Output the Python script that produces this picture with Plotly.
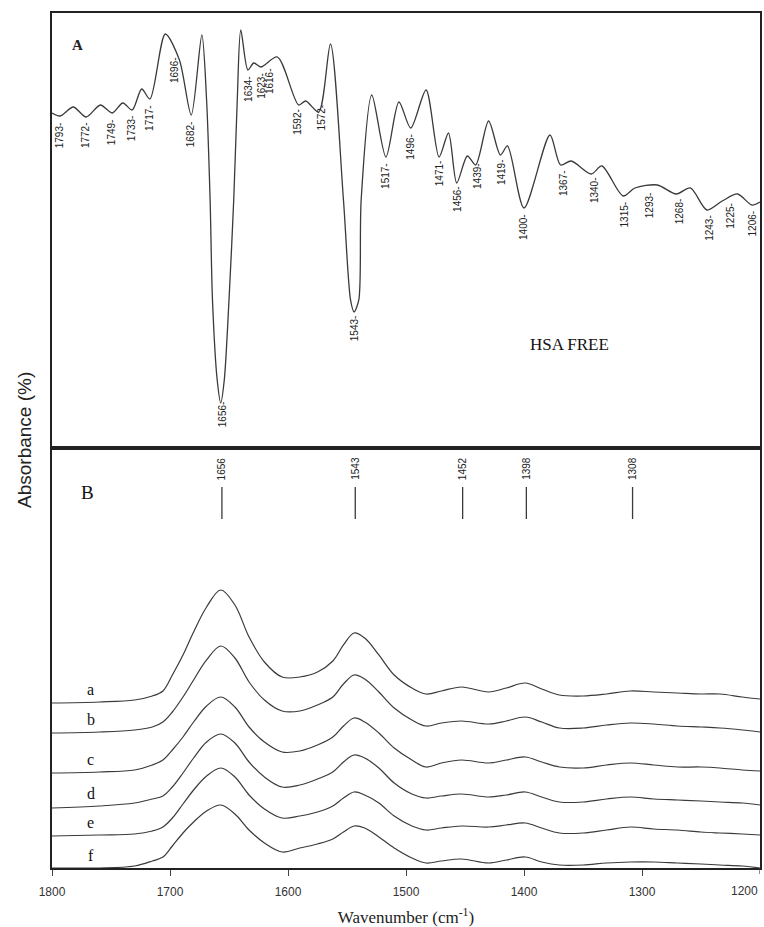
import numpy as np
import plotly.graph_objects as go

# ---------------- Panel A: second-derivative spectrum of free HSA ----------------
wn_A = [1800, 1793, 1782, 1771, 1759, 1749, 1740, 1732, 1724, 1717, 1704, 1692, 1682,
        1673, 1669, 1666, 1664, 1660, 1657, 1654, 1650, 1646, 1643, 1640, 1634, 1629,
        1623, 1609, 1591, 1585, 1574, 1564, 1553, 1547, 1544, 1540, 1538, 1529, 1517,
        1506, 1496, 1483, 1472, 1464, 1457, 1448, 1441, 1430, 1420, 1414, 1400, 1378,
        1369, 1360, 1343, 1334, 1316, 1306, 1287, 1271, 1259, 1245, 1232, 1219, 1207, 1200]
abs_A = [333, 330, 339, 329, 341, 333, 343, 336, 357, 347, 412, 386, 331,
         411, 346, 246, 146, 66, 43, 66, 146, 246, 346, 416, 376, 383,
         379, 389, 341, 345, 334, 402, 246, 146, 134, 146, 246, 351, 289,
         344, 318, 356, 289, 313, 263, 290, 281, 325, 291, 300, 238, 311,
         281, 285, 272, 280, 250, 258, 261, 252, 258, 236, 245, 252, 241, 244]

peak_labels_A = ["1793", "1772", "1749", "1733", "1717", "1696", "1682", "1656", "1634",
                 "1623", "1616", "1592", "1572", "1543", "1517", "1496", "1471", "1456",
                 "1439", "1419", "1400", "1367", "1340", "1315", "1293", "1268", "1243",
                 "1225", "1206"]

# ---------------- Panel B: absorbance spectra a-f ----------------
wn_B = [1800, 1760, 1730, 1715, 1706, 1698, 1689, 1680, 1669, 1657, 1645, 1633, 1620,
        1605, 1590, 1575, 1562, 1553, 1544, 1535, 1523, 1510, 1495, 1483, 1470, 1453,
        1430, 1415, 1399, 1385, 1370, 1350, 1330, 1310, 1290, 1270, 1250, 1234, 1215, 1200]
spec_a = [165, 166, 168, 172, 177, 193, 213, 236, 261, 278, 263, 231, 206, 191, 191, 196,
          207, 223, 235, 230, 213, 193, 180, 174, 177, 181, 176, 180, 185, 179, 173, 172,
          174, 177, 176, 175, 174, 174, 171, 169]
spec_b = [135, 136, 138, 141, 146, 156, 171, 188, 208, 222, 210, 186, 168, 157, 157, 163,
          171, 184, 193, 189, 176, 160, 148, 142, 145, 147, 144, 147, 151, 146, 140, 140,
          143, 145, 144, 142, 141, 140, 138, 136]
spec_c = [95, 96, 98, 103, 108, 118, 131, 146, 162, 171, 161, 141, 126, 116, 117, 123,
          131, 142, 150, 146, 135, 120, 108, 101, 105, 108, 105, 108, 111, 106, 101, 100,
          103, 105, 103, 101, 101, 100, 98, 97]
spec_d = [60, 62, 65, 69, 72, 81, 95, 110, 126, 134, 125, 106, 91, 81, 83, 89,
          96, 106, 113, 110, 100, 85, 74, 70, 72, 74, 71, 73, 76, 71, 66, 66,
          69, 71, 69, 68, 67, 66, 65, 63]
spec_e = [32, 33, 34, 37, 41, 50, 64, 78, 92, 100, 91, 73, 59, 50, 52, 56,
          62, 70, 76, 73, 65, 52, 42, 38, 40, 42, 41, 43, 45, 40, 35, 35,
          38, 41, 39, 38, 36, 35, 34, 33]
spec_f = [0, 0, 2, 7, 11, 22, 35, 46, 57, 63, 54, 38, 25, 16, 20, 24,
          29, 36, 42, 40, 31, 20, 10, 5, 7, 9, 5, 8, 11, 6, 3, 3,
          5, 6, 6, 5, 4, 3, 2, 0]
series_names = ["a", "b", "c", "d", "e", "f"]
series_B = [spec_a, spec_b, spec_c, spec_d, spec_e, spec_f]

band_positions_B = [1656, 1543, 1452, 1398, 1308]
x_ticks = [1800, 1700, 1600, 1500, 1400, 1300]
x_last_tick = 1200

LINE = "#3a3a3a"
SERIF = "Liberation Serif, Times New Roman, serif"
SANS = "Liberation Sans, Arial, sans-serif"

fig = go.Figure()

fig.add_trace(go.Scatter(x=wn_A, y=abs_A, mode="lines", xaxis="x2", yaxis="y2",
                         line=dict(color=LINE, width=1.3, shape="spline", smoothing=0.8),
                         showlegend=False, hoverinfo="skip"))

for name, s in zip(series_names, series_B):
    fig.add_trace(go.Scatter(x=wn_B, y=s, mode="lines", xaxis="x", yaxis="y",
                             line=dict(color=LINE, width=1.2, shape="spline", smoothing=1.0),
                             showlegend=False, hoverinfo="skip"))

annotations = []
wn_A_rev = np.array(wn_A[::-1], dtype=float)
abs_A_rev = np.array(abs_A[::-1], dtype=float)
for lab in peak_labels_A:
    w = float(lab)
    yv = float(np.interp(w, wn_A_rev, abs_A_rev))
    annotations.append(dict(x=w, y=yv, xref="x2", yref="y2", text=lab + "-",
                            textangle=-90, showarrow=False, yanchor="top", xanchor="center",
                            yshift=-4, font=dict(family=SANS, size=10, color="#222")))

annotations.append(dict(x=1778, y=401, xref="x2", yref="y2", text="<b>A</b>", showarrow=False,
                        xanchor="center", yanchor="middle",
                        font=dict(family=SERIF, size=15, color="#222")))
annotations.append(dict(x=1397, y=101, xref="x2", yref="y2", text="HSA FREE", showarrow=False,
                        xanchor="left", yanchor="middle",
                        font=dict(family=SERIF, size=17, color="#111")))
annotations.append(dict(x=1770, y=375, xref="x", yref="y", text="B", showarrow=False,
                        xanchor="center", yanchor="middle",
                        font=dict(family=SERIF, size=19, color="#111")))

wn_B_rev = np.array(wn_B[::-1], dtype=float)
for name, s in zip(series_names, series_B):
    yv = float(np.interp(1767, wn_B_rev, np.array(s[::-1], dtype=float)))
    annotations.append(dict(x=1767, y=yv, xref="x", yref="y", text=name, showarrow=False,
                            xanchor="center", yanchor="bottom", yshift=2,
                            font=dict(family=SERIF, size=16, color="#111")))

shapes = []
for b in band_positions_B:
    shapes.append(dict(type="line", xref="x", yref="y", x0=b, x1=b, y0=349, y1=381,
                       line=dict(color=LINE, width=1.3)))
    annotations.append(dict(x=b, y=381, xref="x", yref="y", text=str(b), textangle=-90,
                            showarrow=False, yanchor="bottom", xanchor="center", yshift=5,
                            font=dict(family=SANS, size=10, color="#222")))

# last tick (sits at the right edge of the chart)
annotations.append(dict(x=x_last_tick, y=0, xref="x", yref="paper", text=str(x_last_tick),
                        showarrow=False, xanchor="right", yanchor="top", yshift=-14,
                        font=dict(family=SANS, size=12, color="#333")))
shapes.append(dict(type="line", xref="x", yref="paper", ysizemode="pixel", yanchor=0,
                   x0=x_last_tick, x1=x_last_tick, y0=0, y1=-6,
                   line=dict(color="#444", width=1.2)))

annotations.append(dict(x=0, y=0.5006, xref="paper", yref="paper", xshift=-27,
                        text="Absorbance (%)", textangle=-90, showarrow=False,
                        xanchor="center", yanchor="middle",
                        font=dict(family=SANS, size=19, color="#222")))

fig.update_layout(
    width=764, height=927,
    margin=dict(l=52, r=2, t=13, b=59),
    paper_bgcolor="white", plot_bgcolor="white",
    xaxis=dict(domain=[0, 1], anchor="y", range=[1800, 1200], tickvals=x_ticks,
               ticks="outside", ticklen=6, tickwidth=1.2, tickcolor="#444",
               ticklabelstandoff=6,
               showline=True, linecolor="#222", linewidth=2, mirror=True,
               showgrid=False, zeroline=False,
               tickfont=dict(family=SANS, size=12, color="#333"),
               title=dict(text="Wavenumber (cm<sup>-1</sup>)", standoff=14,
                          font=dict(family=SERIF, size=17, color="#222"))),
    yaxis=dict(domain=[0, 0.4889], anchor="x", range=[0, 418], showticklabels=False,
               ticks="", showline=True, linecolor="#222", linewidth=2, mirror=True,
               showgrid=False, zeroline=False),
    xaxis2=dict(domain=[0, 1], anchor="y2", range=[1800, 1200], showticklabels=False,
                ticks="", showline=True, linecolor="#222", linewidth=2, mirror=True,
                showgrid=False, zeroline=False),
    yaxis2=dict(domain=[0.4936, 1], anchor="x2", range=[0, 433], showticklabels=False,
                ticks="", showline=True, linecolor="#222", linewidth=2, mirror=True,
                showgrid=False, zeroline=False),
    annotations=annotations,
    shapes=shapes,
)

fig.write_html("out.html")
